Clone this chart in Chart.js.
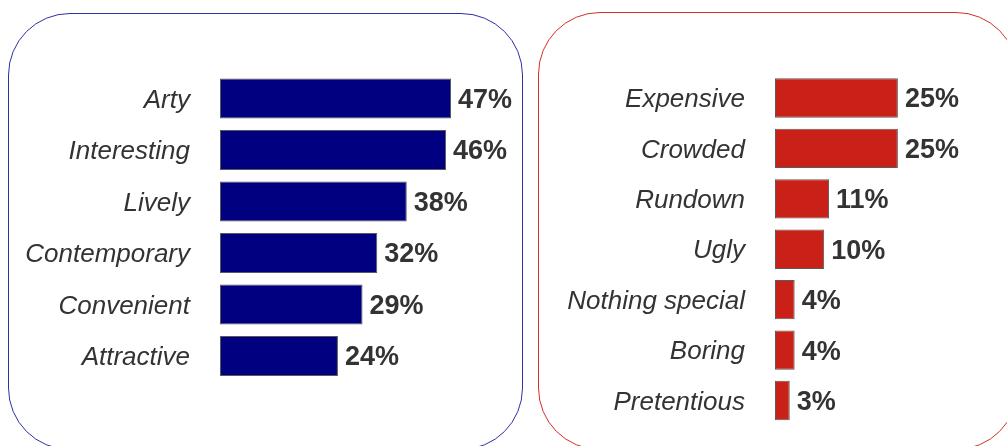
<!DOCTYPE html>
<html>
<head>
<meta charset="utf-8">
<script src="https://cdn.jsdelivr.net/npm/chart.js@4/dist/chart.umd.min.js"></script>
<style>
  html, body { margin: 0; padding: 0; background: #fff; }
  #stage { position: relative; width: 1007px; height: 446px; overflow: hidden; }
  .panel { position: absolute; border-radius: 62px; box-sizing: border-box; }
  #panelPos { left: 8px; top: 13px; width: 515px; height: 437px; border: 1px solid #2f2fa8; }
  #panelNeg { left: 538px; top: 12px; width: 480px; height: 438px; border: 1px solid #d3302a; }
  canvas { position: absolute; top: 0; }
  #chartPos { left: 0; }
  #chartNeg { left: 530px; }
</style>
</head>
<body>
<div id="stage">
  <div class="panel" id="panelPos"></div>
  <div class="panel" id="panelNeg"></div>
  <canvas id="chartPos" width="530" height="446"></canvas>
  <canvas id="chartNeg" width="477" height="446"></canvas>
</div>
<script>
// Positive associations
const positiveLabels = ['Arty', 'Interesting', 'Lively', 'Contemporary', 'Convenient', 'Attractive'];
const positiveValues = [47, 46, 38, 32, 29, 24];

// Negative associations
const negativeLabels = ['Expensive', 'Crowded', 'Rundown', 'Ugly', 'Nothing special', 'Boring', 'Pretentious'];
const negativeValues = [25, 25, 11, 10, 4, 4, 3];

const FONT = "'Liberation Sans', Arial, sans-serif";
const TEXT_COLOR = '#333333';

// Writes the percentage just past the end of each bar
const valueLabels = {
  id: 'valueLabels',
  afterDatasetsDraw(chart) {
    const ctx = chart.ctx;
    const ds = chart.data.datasets[0];
    ctx.save();
    ctx.font = 'bold 27px ' + FONT;
    ctx.fillStyle = TEXT_COLOR;
    ctx.textAlign = 'left';
    ctx.textBaseline = 'middle';
    chart.getDatasetMeta(0).data.forEach((bar, i) => {
      ctx.fillText(ds.data[i] + '%', bar.x + 7, bar.y + 2);
    });
    ctx.restore();
  }
};

function buildChart(id, labels, values, color, cfg) {
  return new Chart(document.getElementById(id), {
    type: 'bar',
    data: {
      labels: labels,
      datasets: [{
        data: values,
        backgroundColor: color,
        borderColor: '#5a5a5a',
        borderWidth: 1,
        borderSkipped: false,
        barPercentage: 0.78,
        categoryPercentage: 1
      }]
    },
    options: {
      indexAxis: 'y',
      responsive: false,
      animation: false,
      devicePixelRatio: 1,
      layout: { padding: { left: 0, right: cfg.padRight, top: cfg.padTop, bottom: cfg.padBottom } },
      plugins: { legend: { display: false }, tooltip: { enabled: false } },
      scales: {
        x: { display: false, min: 0, max: cfg.max },
        y: {
          grid: { display: false, drawTicks: false },
          border: { display: false },
          ticks: {
            padding: 30,
            labelOffset: 2,
            color: TEXT_COLOR,
            font: { family: FONT, size: 26, style: 'italic' }
          },
          afterFit(scale) {
            // fixed label column; the layout padding alone sets the plot's top and bottom
            scale.width = cfg.axisWidth;
            scale.paddingTop = 0;
            scale.paddingBottom = 0;
          }
        }
      }
    },
    plugins: [valueLabels]
  });
}

buildChart('chartPos', positiveLabels, positiveValues, '#000080',
  { max: 60, axisWidth: 220, padRight: 15.1, padTop: 72.75, padBottom: 64.25 });
buildChart('chartNeg', negativeLabels, negativeValues, '#c92117',
  { max: 40, axisWidth: 245, padRight: 35.4, padTop: 72.8, padBottom: 20.3 });
</script>
</body>
</html>
